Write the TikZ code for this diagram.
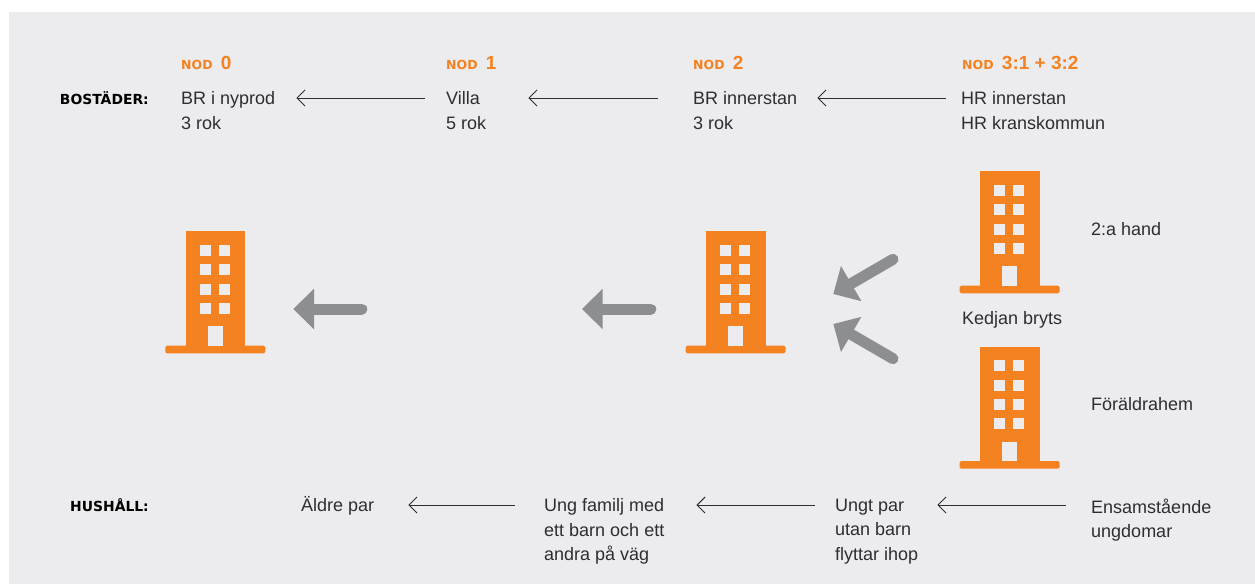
\documentclass[tikz,border=0pt]{standalone}
\usepackage{fontspec}
\setmainfont{Liberation Sans}
\newfontfamily\widebold[BoldFont={DejaVu Sans Bold}]{DejaVu Sans}
\usetikzlibrary{arrows.meta}
\definecolor{panelgrey}{HTML}{ECECEE}
\definecolor{nodorange}{HTML}{F58220}
\definecolor{arrowgrey}{HTML}{8C8E91}
\definecolor{textdark}{HTML}{2E2E30}
\tikzset{
    txt/.style={anchor=north west, inner sep=0pt, align=left, text=textdark, font=\fontsize{18}{24.5}\selectfont},
    rowtxt/.style={txt, execute at begin node=\rule{0pt}{15pt}},
    nodhead/.style={anchor=west, inner sep=0pt, text=nodorange, font=\bfseries\fontsize{19}{20}\selectfont},
    rowhead/.style={anchor=east, inner sep=0pt, text=black, font=\widebold\bfseries\fontsize{13.9}{16}\selectfont},
    thinarrow/.style={draw=textdark, line width=0.9pt, -{Straight Barb[length=8pt,width=16pt]}},
    thickarrow/.style={draw=arrowgrey, line width=11pt, line cap=round, -{Triangle[length=20.7pt,width=39.4pt]}},
    building/.pic={
        \fill[nodorange] (0,0) rectangle (59.5,116);
        \fill[nodorange, rounded corners=1.5pt] (-20.4,114.4) rectangle (79.6,122);
        \foreach \wx in {14.3,33.3}
            \foreach \wy in {13.7,33,52.3,71.7}
                \fill[panelgrey] (\wx,\wy) rectangle (\wx+11,\wy+11);
        \fill[panelgrey] (22,95) rectangle (37,114.4);
    }
}
\newcommand{\nodlabel}[1]{{\widebold\fontsize{12.5}{20}\selectfont NOD}\hspace{3pt} #1}
\begin{document}
\begin{tikzpicture}[x=1pt,y=-1pt]
    \useasboundingbox (0,0) rectangle (1255,584);
    \fill[panelgrey] (9,12) rectangle (1255,584);

    \node[nodhead] (nodzero) at (181,63) {\nodlabel{0}};
    \node[nodhead] (nodone) at (446,63) {\nodlabel{1}};
    \node[nodhead] (nodtwo) at (693,63) {\nodlabel{2}};
    \node[nodhead] (nodthree) at (962,63) {\nodlabel{3:1 + 3:2}};

    \node[rowhead] (bostader) at (149,98) {BOSTÄDER:};
    \node[rowtxt] (nyprod) at (181,91.5) {BR i nyprod\\3 rok};
    \node[rowtxt] (villa) at (446,91.5) {Villa\\5 rok};
    \node[rowtxt] (innerstan) at (693,91.5) {BR innerstan\\3 rok};
    \node[rowtxt] (hyresratt) at (961,91.5) {HR innerstan\\HR kranskommun};

    \draw[thinarrow] ([xshift=-21pt,yshift=-6.5pt]villa.north west) -- ([xshift=21pt,yshift=-6.5pt]nyprod.north east);
    \draw[thinarrow] ([xshift=-35pt,yshift=-6.5pt]innerstan.north west) -- ([xshift=42pt,yshift=-6.5pt]villa.north east);
    \draw[thinarrow] ([xshift=-15pt,yshift=-6.5pt]hyresratt.north west) -- ([xshift=20pt,yshift=-6.5pt]innerstan.north east);

    \pic at (185.7,231.3) {building};
    \pic at (706,231.3) {building};
    \pic at (980,171.3) {building};
    \pic at (980,346.7) {building};

    \coordinate (tailzero) at (361.8,309);
    \coordinate (tipzero) at (293.3,309);
    \coordinate (tailone) at (650.8,309);
    \coordinate (tipone) at (582,309);
    \coordinate (tailhand) at (893,259.3);
    \coordinate (tiphand) at (833.3,294);
    \coordinate (tailhem) at (893,358.7);
    \coordinate (tiphem) at (833.3,324);
    \draw[thickarrow] (tailzero) -- (tipzero);
    \draw[thickarrow] (tailone) -- (tipone);
    \draw[thickarrow] (tailhand) -- (tiphand);
    \draw[thickarrow] (tailhem) -- (tiphem);

    \node[txt, anchor=west] (hand) at (1091,229) {2:a hand};
    \node[txt, anchor=west] (kedjan) at (962,320) {Kedjan bryts};
    \node[txt, anchor=west] (hem) at (1091,404) {Föräldrahem};

    \node[rowhead] (hushall) at (149,505) {HUSHÅLL:};
    \node[rowtxt] (aldre) at (301,496) {Äldre par};
    \node[rowtxt] (familj) at (544,498.5) {Ung familj med\\ett barn och ett\\andra på väg};
    \node[rowtxt] (ungtpar) at (835,498.5) {Ungt par\\utan barn\\flyttar ihop};
    \node[rowtxt] (ensam) at (1091,498.5) {Ensamstående\\ungdomar};

    \draw[thinarrow] ([xshift=-29pt,yshift=-6.5pt]familj.north west) -- ([xshift=34pt,yshift=-9pt]aldre.north east);
    \draw[thinarrow] ([xshift=-20pt,yshift=-6.5pt]ungtpar.north west) -- ([xshift=32pt,yshift=-6.5pt]familj.north east);
    \draw[thinarrow] ([xshift=-25pt,yshift=-6.5pt]ensam.north west) -- ([xshift=19pt,yshift=-6.5pt]ungtpar.north east);
\end{tikzpicture}
\end{document}
